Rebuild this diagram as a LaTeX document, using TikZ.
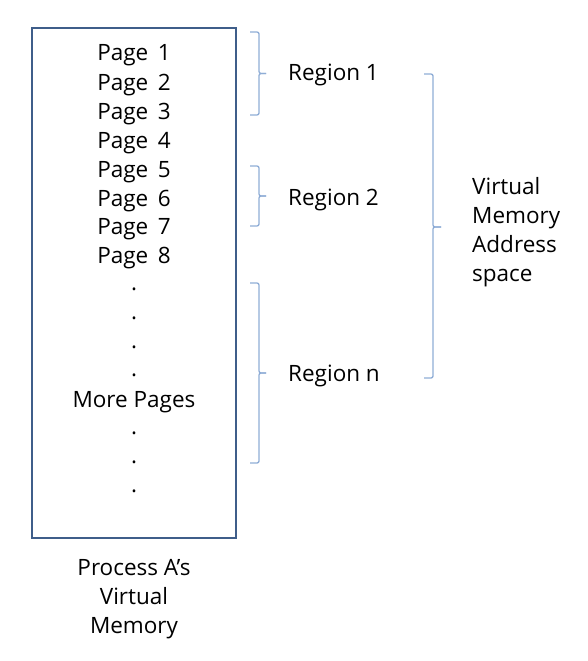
\documentclass[tikz,border=0pt]{standalone}
\usepackage{fontspec}
\setmainfont{Open Sans}
\usepackage{tikz}
\usetikzlibrary{calc}

\definecolor{boxblue}{HTML}{3F5E8A}
\definecolor{braceblue}{HTML}{8FADD6}

\begin{document}
\begin{tikzpicture}[x=1pt, y=-1pt,
    txt/.style={font=\fontsize{22.5}{29}\selectfont, inner sep=0pt, align=center, anchor=base},
    brace/.style={draw=braceblue, line width=1.3pt, rounded corners=2pt}]
    \useasboundingbox (0,0) rectangle (587,661);
    % process box
    \draw[boxblue, line width=2.8pt] (32,28) rectangle (236,538);
    \foreach \i/\y in {1/53,2/82,3/111,4/140,5/169,6/198,7/226,8/255}
        \node[txt] (p\i) at (134,\y+8) {Page\, \i};
    \foreach \i/\y in {1/288,2/317,3/346,4/374,5/432,6/461,7/490}
        \node[txt] (d\i) at (134,\y+2) {.};
    \node[txt] (more) at (134,407) {More Pages};
    \node[txt, anchor=north] (proc) at (134,559) {Process A’s\\Virtual\\Memory};
    % region braces
    \coordinate (r1t) at (250,32);
    \coordinate (r1b) at (250,115);
    \coordinate (r2t) at (250,166);
    \coordinate (r2b) at (250,226);
    \coordinate (rnt) at (250,283);
    \coordinate (rnb) at (250,463);
    \draw[brace] (r1t) -- ++(9,0) |- ($(r1t)!0.5!(r1b)+(16,0)$);
    \draw[brace] (r1b) -- ++(9,0) |- ($(r1t)!0.5!(r1b)+(16,0)$);
    \draw[brace] (r2t) -- ++(9,0) |- ($(r2t)!0.5!(r2b)+(16,0)$);
    \draw[brace] (r2b) -- ++(9,0) |- ($(r2t)!0.5!(r2b)+(16,0)$);
    \draw[brace] (rnt) -- ++(9,0) |- ($(rnt)!0.5!(rnb)+(16,0)$);
    \draw[brace] (rnb) -- ++(9,0) |- ($(rnt)!0.5!(rnb)+(16,0)$);
    \node[txt, anchor=base west] (reg1) at (288,81) {Region 1};
    \node[txt, anchor=base west] (reg2) at (288,205) {Region 2};
    \node[txt, anchor=base west] (regn) at (288,381) {Region n};
    % address space brace
    \coordinate (vt) at (424,74);
    \coordinate (vb) at (424,378);
    \draw[brace] (vt) -- ++(9,0) |- (441,227);
    \draw[brace] (vb) -- ++(9,0) |- (441,227);
    \node[txt, anchor=north west, align=left] (vas) at (472,177) {Virtual\\Memory\\Address\\space};
\end{tikzpicture}
\end{document}
